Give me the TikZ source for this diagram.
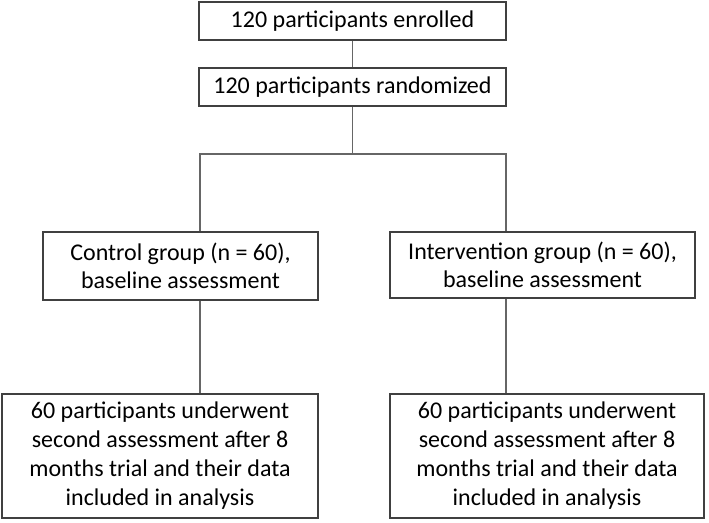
\documentclass[tikz,border=0pt]{standalone}
\usepackage{fontspec}
\setmainfont{Carlito}
\begin{document}
\begin{tikzpicture}[x=1pt,y=-1pt,
  flowbox/.style={draw=black!75, line width=1.3pt, align=center, inner sep=0pt,
    font=\fontsize{24}{27.5}\selectfont, text=black},
  link/.style={draw=black!60, line width=1.1pt}]
  \useasboundingbox (0,0) rectangle (709,522);

  % stages of the trial
  \node[flowbox, minimum width=307pt, minimum height=38pt] (enr) at (352.5,21) {120 participants enrolled};
  \node[flowbox, minimum width=307pt, minimum height=38pt] (rnd) at (352.5,87) {120 participants randomized};
  \node[flowbox, minimum width=275pt, minimum height=68pt] (ctl) at (180.5,266) {Control group (n = 60),\\baseline assessment};
  \node[flowbox, minimum width=305pt, minimum height=66pt] (int) at (542.5,265) {Intervention group (n = 60),\\baseline assessment};
  \node[flowbox, minimum width=316pt, minimum height=124pt, font=\fontsize{24}{29}\selectfont] (cfin) at (160,456)
    {60 participants underwent\\second assessment after 8\\months trial and their data\\included in analysis};
  \node[flowbox, minimum width=314pt, minimum height=124pt, font=\fontsize{24}{29}\selectfont] (ifin) at (547,456)
    {60 participants underwent\\second assessment after 8\\months trial and their data\\included in analysis};

  % branch points of the split
  \coordinate (split) at (352.5,154);
  \coordinate (lft) at (200,154);
  \coordinate (rgt) at (506,154);

  \draw[link] (enr.south) -- (rnd.north);
  \draw[link] (rnd.south) -- (split);
  \draw[link] (ctl.north -| lft) -- (lft) -- (rgt) -- (int.north -| rgt);
  \draw[link] (ctl.south -| lft) -- (cfin.north -| lft);
  \draw[link] (int.south -| rgt) -- (ifin.north -| rgt);
\end{tikzpicture}
\end{document}
